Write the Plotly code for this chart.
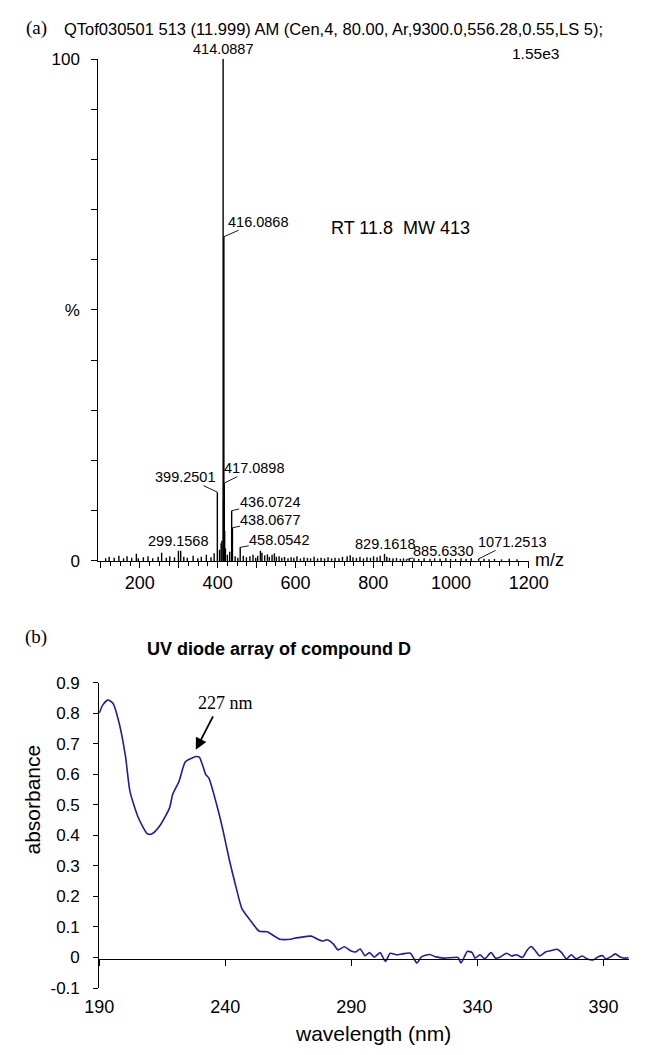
import plotly.graph_objects as go

W, H = 649, 1055
SANS = "Liberation Sans"
SERIF = "Liberation Serif"

# ---------------- (a) mass spectrum data ----------------
label_mz = [414.0887, 416.0868, 417.0898, 399.2501, 436.0724, 438.0677,
            458.0542, 299.1568, 829.1618, 885.6330, 1071.2513]
label_int = [100.0, 64.6, 15.5, 13.7, 10.0, 6.6, 2.7, 2.0, 1.4, 0.3, 0.4]

noise_mz = [112, 121, 134, 146, 158, 167, 179, 191, 196, 209, 221, 233, 247, 256,
            268, 277, 289, 305, 313, 322, 337, 349, 358, 371, 383, 391, 405, 409,
            411, 415.09, 418.08, 420, 425, 431, 445, 452, 466, 474, 483, 491, 498,
            503, 510, 514, 521, 528, 533, 540, 546, 551, 558, 565, 572, 581, 589,
            596, 604, 613, 622, 631, 639, 648, 657, 666, 675, 684, 693, 702, 712,
            721, 733, 741, 748, 757, 766, 775, 784, 793, 801, 810, 818, 835, 842,
            851, 860, 870, 878, 893, 905, 917, 931, 946, 958, 972, 987, 999, 1012,
            1026, 1039, 1052, 1085, 1098, 1112, 1130, 1150, 1170]
noise_int = [0.5, 0.8, 0.6, 1.0, 0.5, 0.9, 0.6, 1.4, 0.5, 0.7, 0.9, 0.5, 0.8, 1.6,
             0.6, 0.9, 0.7, 2.0, 0.8, 0.6, 1.0, 0.5, 0.8, 1.2, 0.7, 1.5, 2.2, 3.5,
             4.0, 12.0, 6.0, 2.5, 1.2, 1.8, 0.9, 0.6, 1.0, 0.7, 0.9, 1.2, 0.6,
             1.0, 2.0, 1.6, 1.1, 1.3, 0.8, 1.2, 1.5, 0.8, 0.9, 0.6, 0.8, 0.5, 0.7,
             0.6, 0.9, 0.5, 0.7, 0.6, 0.5, 0.8, 0.5, 0.6, 0.5, 0.7, 0.5, 0.6, 0.5,
             0.8, 0.9, 1.1, 0.7, 0.6, 0.8, 0.5, 0.7, 0.6, 0.9, 0.7, 1.0, 0.8, 0.6,
             0.5, 0.6, 0.4, 0.5, 0.4, 0.5, 0.4, 0.5, 0.4, 0.5, 0.4, 0.5, 0.4, 0.4,
             0.5, 0.4, 0.5, 0.4, 0.3, 0.4, 0.3, 0.4, 0.3]

ms_ytick_vals = [0, 50, 100]
ms_ytick_text = ["0", "%", "100"]
ms_xtick_vals = [100, 200, 300, 400, 500, 600, 700, 800, 900, 1000, 1100, 1200]
ms_xtick_text = ["", "200", "", "400", "", "600", "", "800", "", "1000", "", "1200"]

# ---------------- (b) UV spectrum data ----------------
wavelength = [190, 191.5, 193.5, 195.5, 197.9, 200.4, 202.2, 205.4, 209.1, 211, 214.1,
              217.9, 219.1, 221.6, 224.1, 226, 228.5, 229.7, 231, 232.2, 233.5, 236.6,
              239.1, 241.6, 244.1, 246.6, 249.7, 253.5, 256.6, 261.6, 266, 267.5, 269,
              274.1, 276.6, 278.5, 280.4, 282.9, 284.7, 287.2, 289.7, 291.6, 293.5,
              295.4, 297.2, 299.1, 301.4, 303.5, 305.4, 307.8, 310.3, 313.4, 314.7,
              316, 317.8, 321, 323.5, 326.6, 330.4, 332.3, 333.5, 336, 337.9, 339.1,
              341, 342.9, 345.4, 347.2, 349.1, 351.6, 353.5, 355.4, 357.9, 359.7,
              361.3, 362.8, 364.7, 367.2, 369.1, 371.6, 373.4, 375.3, 377.2, 379.1,
              381.6, 383.4, 385.9, 387.8, 389.7, 390.9, 392.8, 394.7, 396.6, 399.1, 400]
absorbance = [0.800, 0.828, 0.843, 0.832, 0.768, 0.660, 0.544, 0.460, 0.405, 0.405, 0.432,
              0.490, 0.533, 0.576, 0.640, 0.650, 0.658, 0.656, 0.630, 0.600, 0.587, 0.500,
              0.416, 0.320, 0.236, 0.160, 0.124, 0.086, 0.084, 0.060, 0.060, 0.063, 0.065,
              0.070, 0.060, 0.054, 0.058, 0.044, 0.025, 0.035, 0.022, 0.018, 0.028,
              0.006, 0.016, 0.001, 0.016, -0.013, 0.014, 0.009, 0.012, 0.014, -0.002,
              -0.018, 0.002, 0.010, 0.002, -0.002, 0.000, 0.000, -0.018, 0.020, 0.016, -0.002,
              0.009, -0.004, 0.016, -0.002, 0.002, 0.014, 0.005, 0.009, 0.000, 0.024,
              0.036, 0.024, 0.005, 0.019, 0.022, 0.027, 0.016, -0.005, 0.009, -0.004,
              0.005, -0.004, -0.008, 0.002, 0.006, -0.005, 0.002, 0.012, 0.002, -0.002, 0.000]

uv_ytick_vals = [-0.1, 0, 0.1, 0.2, 0.3, 0.4, 0.5, 0.6, 0.7, 0.8, 0.9]
uv_ytick_text = ["-0.1", "0", "0.1", "0.2", "0.3", "0.4", "0.5", "0.6", "0.7", "0.8", "0.9"]
uv_xtick_vals = [190, 240, 290, 340, 390]
peak_wavelength = 227


def px(x):
    return x / W


def py(y):
    return 1 - y / H


# stick spectrum built from the data arrays
all_mz = label_mz + noise_mz
all_int = label_int + noise_int
sx, sy = [], []
for m, h in zip(all_mz, all_int):
    sx += [m, m, None]
    sy += [0, h, None]

fig = go.Figure()
fig.add_trace(go.Scatter(x=sx, y=sy, mode="lines", line=dict(color="black", width=1.4),
                         xaxis="x", yaxis="y", hoverinfo="skip", showlegend=False))
fig.add_trace(go.Scatter(x=wavelength, y=absorbance, mode="lines",
                         line=dict(color="#1e1e9c", width=1.6, shape="spline", smoothing=0.6),
                         xaxis="x2", yaxis="y2", showlegend=False))
# carrier for the zero-line axis of panel (b)
fig.add_trace(go.Scatter(x=[uv_xtick_vals[0]], y=[None], mode="markers",
                         xaxis="x3", yaxis="y2", hoverinfo="skip", showlegend=False))

axis_common = dict(showgrid=False, zeroline=False, linecolor="black", tickcolor="black",
                   mirror=False)

fig.update_layout(
    width=W, height=H, autosize=False,
    margin=dict(l=0, r=0, t=0, b=0),
    paper_bgcolor="white", plot_bgcolor="white",
    font=dict(family=SANS, color="black"),
    xaxis=dict(domain=[px(88), px(543)], range=[93, 1200], anchor="y",
               showline=True, linewidth=1, ticks="outside", ticklen=6, tickwidth=1,
               tickvals=ms_xtick_vals, ticktext=ms_xtick_text,
               tickfont=dict(size=18, family=SANS),
               minor=dict(ticks="outside", ticklen=4, dtick=25, tick0=0, tickcolor="black"),
               **axis_common),
    yaxis=dict(domain=[py(562), py(51)], range=[0, 100], anchor="x",
               showline=True, linewidth=1, ticks="outside", ticklen=6, tickwidth=1,
               tickvals=ms_ytick_vals, ticktext=ms_ytick_text,
               tickfont=dict(size=17, family=SANS), ticklabelstandoff=8,
               minor=dict(ticks="outside", ticklen=6, dtick=10, tick0=0, tickcolor="black"),
               **axis_common),
    xaxis2=dict(domain=[px(89), px(648.7)], range=[190, 400], anchor="y2",
                showline=False, ticks="", tickvals=uv_xtick_vals,
                tickfont=dict(size=18, family=SANS), ticklabelstandoff=6,
                **axis_common),
    xaxis3=dict(range=[190, 400], overlaying="x2", anchor="free", position=py(967),
                showline=True, linewidth=1, ticks="outside", ticklen=6, tickwidth=1,
                tickvals=uv_xtick_vals, showticklabels=False, **axis_common),
    yaxis2=dict(domain=[py(997), py(686)], range=[-0.1, 0.9], anchor="x2",
                showline=True, linewidth=1, ticks="outside", ticklen=5, tickwidth=1,
                tickvals=uv_ytick_vals, ticktext=uv_ytick_text,
                tickfont=dict(size=17, family=SANS), ticklabelstandoff=10,
                **axis_common),
)

ann = []


def text_ann(x, y, text, size, xanchor="center", family=SANS, bold=False):
    t = f"<b>{text}</b>" if bold else text
    ann.append(dict(x=px(x), y=py(y), xref="paper", yref="paper", text=t, showarrow=False,
                    xanchor=xanchor, yanchor="middle",
                    font=dict(family=family, size=size, color="black")))


# panel (a) texts
text_ann(10, 19, "(a)", 19, "left", SERIF)
text_ann(50, 20, "QTof030501 513 (11.999) AM (Cen,4, 80.00, Ar,9300.0,556.28,0.55,LS 5);", 16.5, "left")
text_ann(577, 45, "1.55e3", 15.5, "right")
text_ann(483, 223, "RT 11.8&nbsp;&nbsp;MW 413", 18, "right")
text_ann(548, 561, "m/z", 18, "left")

# peak labels (pixel offsets of label from peak top; None = directly above)
label_offsets = {
    414.0887: None, 416.0868: (34, -15), 417.0898: (30, -15), 399.2501: (-32, -15),
    436.0724: (38, -9), 438.0677: (38, -8), 458.0542: (39, -7), 299.1568: None,
    829.1618: None, 885.6330: (37, -8), 1071.2513: (34, -17),
}
for m, h in zip(label_mz, label_int):
    off = label_offsets[m]
    txt = f"{m:.4f}"
    if off is None:
        ann.append(dict(x=m, y=h, xref="x", yref="y", text=txt, showarrow=False,
                        xanchor="center", yanchor="bottom", yshift=0,
                        font=dict(family=SANS, size=14.5, color="black")))
    else:
        ann.append(dict(x=m, y=h, xref="x", yref="y", text=txt, showarrow=True,
                        arrowhead=0, arrowwidth=0.9, arrowcolor="black", ax=off[0], ay=off[1],
                        standoff=0, startstandoff=0, borderpad=0,
                        font=dict(family=SANS, size=14.5, color="black")))

# panel (b) texts
text_ann(8, 640, "(b)", 19, "left", SERIF)
text_ann(137, 652, "UV diode array of compound D", 18, "left", bold=True)
text_ann(222, 707, f"{peak_wavelength} nm", 18, "center", SERIF)
text_ann(378, 1043, "wavelength (nm)", 21, "center")
ann.append(dict(x=px(18), y=py(805), xref="paper", yref="paper", text="absorbance",
                showarrow=False, textangle=-90, xanchor="center", yanchor="middle",
                font=dict(family=SANS, size=21, color="black")))
# arrow pointing to the 227 nm maximum
ann.append(dict(x=228.3, y=0.68, xref="x2", yref="y2", text="", showarrow=True,
                arrowhead=2, arrowsize=1.3, arrowwidth=1.8, arrowcolor="black",
                ax=18, ay=-35, standoff=0))

fig.update_layout(annotations=ann)
fig.write_html("out.html")
